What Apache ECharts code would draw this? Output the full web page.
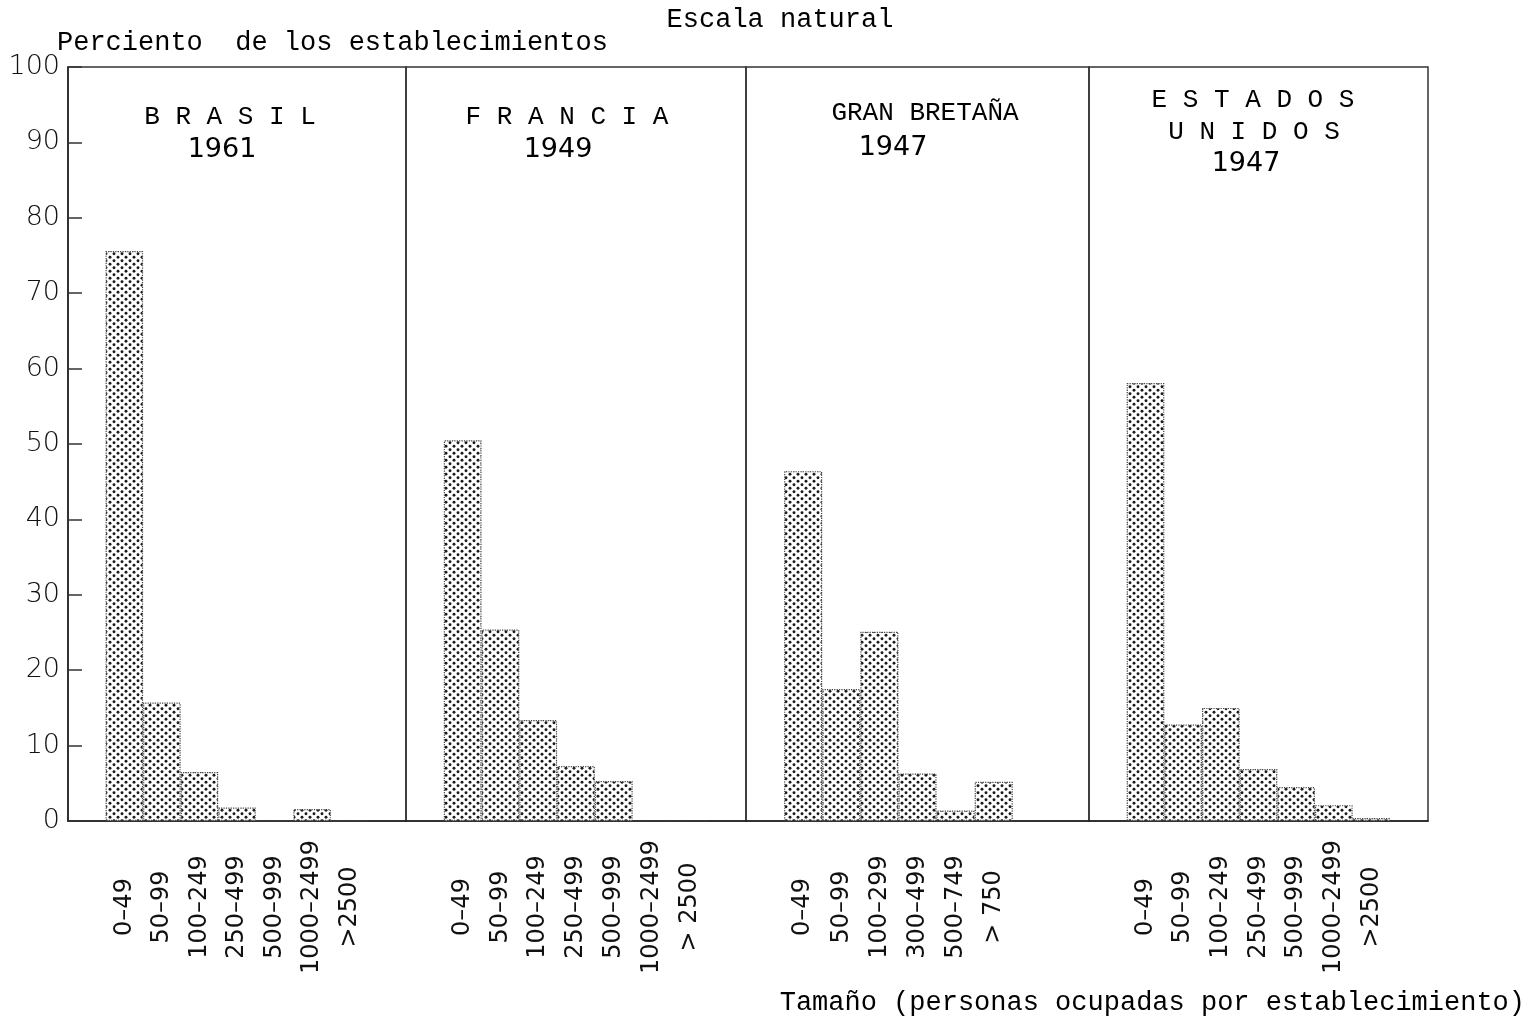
<!DOCTYPE html>
<html>
<head>
<meta charset="utf-8">
<script src="https://cdn.jsdelivr.net/npm/echarts@6/dist/echarts.min.js"></script>
<style>
html,body{margin:0;padding:0;background:#fff;}
#c{width:1528px;height:1023px;}
</style>
</head>
<body>
<div id="c"></div>
<script>
// ---------------- data ----------------
const yMin = 0, yMax = 100, yStep = 10;

const brasilCats = ['0–49', '50–99', '100–249', '250–499', '500–999', '1000–2499', '>2500'];
const brasilVals = [75.6, 15.7, 6.5, 1.8, 0, 1.6, 0];

const franciaCats = ['0–49', '50–99', '100–249', '250–499', '500–999', '1000–2499', '> 2500'];
const franciaVals = [50.5, 25.4, 13.4, 7.3, 5.3, 0, 0];

const granBretanaCats = ['0–49', '50–99', '100–299', '300–499', '500–749', '> 750'];
const granBretanaVals = [46.4, 17.5, 25.1, 6.3, 1.4, 5.2];

const eeuuCats = ['0–49', '50–99', '100–249', '250–499', '500–999', '1000–2499', '>2500'];
const eeuuVals = [58.1, 12.8, 15.0, 6.9, 4.5, 2.1, 0.4];

const panelTitles = [
  ['B R A S I L', '1961'],
  ['F R A N C I A', '1949'],
  ['GRAN BRETAÑA', '1947'],
  ['E S T A D O S', 'U N I D O S', '1947']
];

// ---------------- layout / style ----------------
const SLOTS = 9;
const panels = [
  { cats: brasilCats, vals: brasilVals, left: 68, width: 338 },
  { cats: franciaCats, vals: franciaVals, left: 406, width: 340 },
  { cats: granBretanaCats, vals: granBretanaVals, left: 746, width: 343 },
  { cats: eeuuCats, vals: eeuuVals, left: 1089, width: 339 }
];
const TOP = 67, BOTTOM = 1023 - 821;
const MONO = '"Liberation Mono", "Courier New", monospace';
const SANS = '"DejaVu Sans", "Noto Sans", sans-serif';

function stipple() {
  const c = document.createElement('canvas');
  c.width = 8; c.height = 7;
  const g = c.getContext('2d');
  g.fillStyle = '#ffffff';
  g.fillRect(0, 0, 8, 7);
  g.fillStyle = '#1a1a1a';
  const pts = [[2, 1.75], [6, 5.25], [-2, 5.25], [10, 5.25], [2, 8.75], [6, -1.75]];
  pts.forEach(p => { g.beginPath(); g.arc(p[0], p[1], 1.45, 0, Math.PI * 2); g.fill(); });
  return c;
}
const pattern = { image: stipple(), repeat: 'repeat' };

const grids = [], xAxes = [], yAxes = [], series = [];
panels.forEach((p, i) => {
  grids.push({
    left: p.left, width: p.width, top: TOP, bottom: BOTTOM,
    show: true, borderColor: '#333', borderWidth: 1.5, backgroundColor: 'transparent'
  });
  const axisData = [''].concat(p.cats);
  const seriesData = [null].concat(p.vals);
  while (axisData.length < SLOTS) { axisData.push(''); seriesData.push(null); }
  xAxes.push({
    type: 'category', gridIndex: i, data: axisData, boundaryGap: true,
    axisLine: { show: true, lineStyle: { color: '#222', width: 1.5 } },
    axisTick: { show: false },
    axisLabel: {
      interval: 0, rotate: 90, align: 'center', verticalAlign: 'middle', margin: 86,
      fontFamily: SANS, fontSize: 24, fontWeight: 'normal', color: '#111'
    },
    splitLine: { show: false }
  });
  yAxes.push({
    type: 'value', gridIndex: i, min: yMin, max: yMax, interval: yStep,
    axisLine: { show: i === 0, lineStyle: { color: '#222', width: 1.5 } },
    axisTick: { show: i === 0, inside: true, length: 14, lineStyle: { color: '#333', width: 1.5 } },
    axisLabel: { show: i === 0, margin: 8, fontFamily: SANS, fontSize: 27, fontWeight: 300, color: '#111' },
    splitLine: { show: false }
  });
  series.push({
    type: 'bar', xAxisIndex: i, yAxisIndex: i, data: seriesData,
    barCategoryGap: '0%', barGap: '0%',
    itemStyle: { color: pattern, borderColor: '#444', borderWidth: 1.2, borderType: 'dotted' },
    silent: true, animation: false
  });
});

// text elements
const graphics = [];
function txt(x, y, text, font, align) {
  graphics.push({
    type: 'text', x: x, y: y,
    style: {
      text: text, font: font, fill: '#000',
      align: align || 'center', verticalAlign: 'middle',
      textAlign: align || 'center', textVerticalAlign: 'middle'
    }
  });
}
txt(780, 20, 'Escala natural', '27px ' + MONO);
txt(57, 43, 'Perciento  de los establecimientos', '27px ' + MONO, 'left');
txt(1525, 1003, 'Tamaño (personas ocupadas por establecimiento)', '27px ' + MONO, 'right');

const titlePos = [
  [[230, 117], [222, 150]],
  [[567, 117], [558, 150]],
  [[925, 113], [893, 148]],
  [[1253, 100], [1254, 132], [1246, 164]]
];
panelTitles.forEach((lines, i) => {
  lines.forEach((t, j) => {
    const isYear = /^\d+$/.test(t);
    txt(titlePos[i][j][0], titlePos[i][j][1], t, isYear ? ('27px ' + SANS) : ('26px ' + MONO));
  });
});

const chart = echarts.init(document.getElementById('c'), null, { renderer: 'canvas' });
chart.setOption({
  animation: false,
  backgroundColor: '#ffffff',
  grid: grids,
  xAxis: xAxes,
  yAxis: yAxes,
  series: series,
  graphic: graphics
});
</script>
</body>
</html>
